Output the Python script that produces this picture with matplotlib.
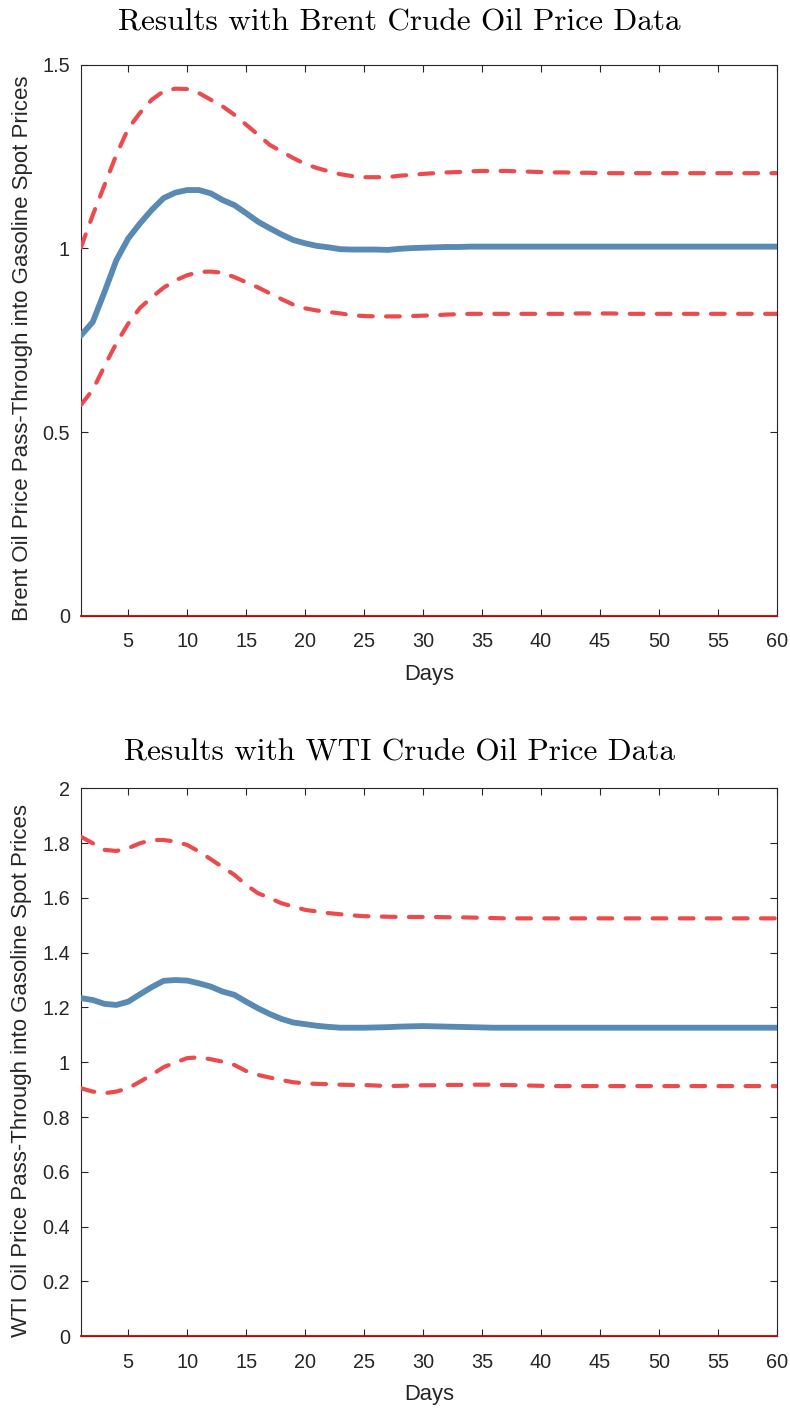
import matplotlib
matplotlib.use("Agg")
import matplotlib.pyplot as plt
from matplotlib.ticker import FuncFormatter

days = list(range(1, 61))

brent_center = [0.763, 0.80, 0.882, 0.968, 1.027, 1.068, 1.105, 1.137, 1.152, 1.159,
                1.159, 1.150, 1.132, 1.118, 1.096, 1.073, 1.055, 1.038, 1.023, 1.014,
                1.007, 1.003, 0.998, 0.997, 0.997, 0.997, 0.996, 0.999, 1.001, 1.002,
                1.003, 1.004, 1.004, 1.005, 1.005, 1.005, 1.005, 1.005, 1.005, 1.005,
                1.005, 1.005, 1.005, 1.005, 1.005, 1.005, 1.005, 1.005, 1.005, 1.005,
                1.005, 1.005, 1.005, 1.005, 1.005, 1.005, 1.005, 1.005, 1.005, 1.005]
brent_upper = [1.003, 1.091, 1.173, 1.255, 1.326, 1.369, 1.405, 1.428, 1.435, 1.434,
               1.423, 1.405, 1.387, 1.364, 1.337, 1.310, 1.282, 1.264, 1.246, 1.230,
               1.219, 1.210, 1.202, 1.197, 1.194, 1.194, 1.194, 1.198, 1.200, 1.203,
               1.205, 1.207, 1.208, 1.210, 1.211, 1.211, 1.211, 1.210, 1.209, 1.208,
               1.207, 1.207, 1.206, 1.206, 1.205, 1.205, 1.205, 1.205, 1.205, 1.205,
               1.205, 1.205, 1.205, 1.205, 1.205, 1.205, 1.205, 1.205, 1.205, 1.205]
brent_lower = [0.574, 0.615, 0.680, 0.742, 0.795, 0.838, 0.867, 0.893, 0.913, 0.927,
               0.936, 0.937, 0.934, 0.922, 0.908, 0.894, 0.878, 0.862, 0.847, 0.837,
               0.831, 0.827, 0.823, 0.818, 0.816, 0.815, 0.815, 0.815, 0.816, 0.817,
               0.818, 0.820, 0.821, 0.822, 0.822, 0.822, 0.822, 0.822, 0.822, 0.822,
               0.822, 0.822, 0.823, 0.823, 0.823, 0.823, 0.822, 0.822, 0.822, 0.822,
               0.822, 0.822, 0.822, 0.822, 0.822, 0.822, 0.822, 0.822, 0.822, 0.822]

wti_center = [1.234, 1.227, 1.213, 1.209, 1.221, 1.248, 1.274, 1.297, 1.300, 1.298,
              1.288, 1.276, 1.258, 1.246, 1.221, 1.197, 1.176, 1.158, 1.145, 1.139,
              1.133, 1.129, 1.126, 1.126, 1.126, 1.127, 1.128, 1.130, 1.131, 1.132,
              1.131, 1.130, 1.129, 1.128, 1.127, 1.126, 1.126, 1.126, 1.126, 1.126,
              1.126, 1.126, 1.126, 1.126, 1.126, 1.126, 1.126, 1.126, 1.126, 1.126,
              1.126, 1.126, 1.126, 1.126, 1.126, 1.126, 1.126, 1.126, 1.126, 1.126]
wti_upper = [1.823, 1.799, 1.775, 1.771, 1.781, 1.799, 1.811, 1.811, 1.805, 1.793,
             1.769, 1.741, 1.712, 1.684, 1.647, 1.617, 1.599, 1.580, 1.568, 1.556,
             1.550, 1.544, 1.540, 1.536, 1.533, 1.532, 1.531, 1.530, 1.530, 1.530,
             1.530, 1.529, 1.529, 1.528, 1.527, 1.526, 1.525, 1.525, 1.525, 1.525,
             1.525, 1.525, 1.525, 1.525, 1.525, 1.525, 1.525, 1.525, 1.525, 1.525,
             1.525, 1.525, 1.525, 1.525, 1.525, 1.525, 1.525, 1.525, 1.525, 1.525]
wti_lower = [0.905, 0.893, 0.887, 0.893, 0.905, 0.929, 0.954, 0.982, 0.999, 1.015,
             1.018, 1.011, 1.002, 0.990, 0.968, 0.954, 0.944, 0.935, 0.927, 0.923,
             0.921, 0.920, 0.918, 0.917, 0.917, 0.915, 0.913, 0.914, 0.915, 0.916,
             0.916, 0.917, 0.917, 0.918, 0.918, 0.918, 0.917, 0.916, 0.915, 0.914,
             0.913, 0.913, 0.913, 0.913, 0.913, 0.913, 0.913, 0.913, 0.913, 0.913,
             0.913, 0.913, 0.913, 0.913, 0.913, 0.913, 0.913, 0.913, 0.913, 0.913]

x_ticks = list(range(5, 61, 5))
brent_yticks = [0, 0.5, 1, 1.5]
wti_yticks = [0, 0.2, 0.4, 0.6, 0.8, 1, 1.2, 1.4, 1.6, 1.8, 2]

panels = [
    ("Results with Brent Crude Oil Price Data",
     "Brent Oil Price Pass-Through into Gasoline Spot Prices",
     brent_center, brent_upper, brent_lower, brent_yticks, (0, 1.5), 25),
    ("Results with WTI Crude Oil Price Data",
     "WTI Oil Price Pass-Through into Gasoline Spot Prices",
     wti_center, wti_upper, wti_lower, wti_yticks, (0, 2), 20),
]

BLUE = "#588AB4"
RED = "#EC4B4E"
AXC = "#262626"

plt.rcParams['font.family'] = ['Liberation Sans', 'DejaVu Sans']

fig = plt.figure(figsize=(7.9, 14.09), dpi=100)
rects = [[0.1025, 0.563, 0.881, 0.391], [0.1025, 0.0516, 0.881, 0.389]]

fmt = FuncFormatter(lambda v, p: ("%g" % round(v, 3)))

for rect, (title, ylabel, c, u, l, yt, ylim, tpad) in zip(rects, panels):
    ax = fig.add_axes(rect)
    ax.plot(days, [0] * len(days), color="#CC0000", lw=1.3, zorder=5, clip_on=False)
    ax.plot(days, u, color=RED, lw=3.0, dashes=(3.3, 3.2),
            dash_capstyle='round', solid_capstyle='round', zorder=3)
    ax.plot(days, l, color=RED, lw=3.0, dashes=(3.3, 3.2),
            dash_capstyle='round', solid_capstyle='round', zorder=3)
    ax.plot(days, c, color=BLUE, lw=4.2, solid_capstyle='round', zorder=4)
    ax.set_xlim(1, 60)
    ax.set_ylim(*ylim)
    ax.set_xticks(x_ticks)
    ax.set_yticks(yt)
    ax.yaxis.set_major_formatter(fmt)
    ax.tick_params(direction='in', top=True, right=True, length=5, width=0.8,
                   colors=AXC, labelsize=14.3, labelcolor=AXC)
    ax.tick_params(axis='x', pad=12)
    ax.tick_params(axis='y', pad=8)
    for s in ax.spines.values():
        s.set_color(AXC)
        s.set_linewidth(0.8)
    ax.set_title(title, fontfamily='cmr10', fontsize=22.5, color='black',
                 pad=tpad, x=0.457)
    ax.set_xlabel("Days", fontsize=15.8, color=AXC, labelpad=9)
    ax.set_ylabel(ylabel, fontsize=16, color=AXC, labelpad=7, y=0.485)

fig.savefig("out.png", dpi=100)
